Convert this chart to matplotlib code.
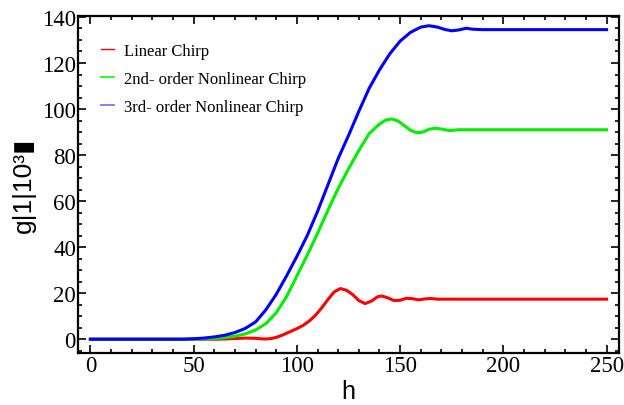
import matplotlib.pyplot as plt
from matplotlib.lines import Line2D
from matplotlib.ticker import MultipleLocator

# valores (h, g en unidades de 10^3)
h_linear = [0, 60, 65, 70, 75, 80, 84, 87, 90, 93, 97, 100, 103, 106, 109, 112, 115, 118,
            121, 124, 127, 130, 133, 136, 139, 141, 144, 147, 150, 153, 156, 159, 162,
            165, 168, 250]
g_linear = [0, 0, 0.1, 0.3, 0.5, 0.4, 0.1, 0.2, 0.8, 1.8, 3.4, 4.6, 6.0, 7.9, 10.4, 13.6,
            17.2, 20.5, 22.0, 21.3, 19.4, 16.8, 15.5, 16.5, 18.4, 18.8, 18.0, 16.8, 16.9,
            17.8, 17.6, 17.1, 17.5, 17.7, 17.4, 17.4]

h_second = [0, 50, 55, 60, 65, 70, 75, 80, 85, 90, 95, 100, 105, 110, 115, 120, 125, 130,
            135, 140, 143, 146, 149, 152, 155, 158, 161, 164, 167, 170, 174, 178, 250]
g_second = [0, 0, 0.1, 0.3, 0.7, 1.3, 2.3, 4.0, 6.8, 11.5, 18.5, 27.5, 36.5, 46, 56, 65.5,
            74, 82, 89.3, 93.5, 95.2, 95.7, 94.8, 92.8, 90.8, 89.7, 90, 91.2, 91.7, 91.3,
            90.6, 91, 91]

h_third = [0, 45, 50, 55, 60, 65, 70, 75, 80, 85, 90, 95, 100, 105, 110, 115, 120, 125,
           130, 135, 140, 145, 150, 155, 160, 164, 168, 172, 175, 178, 182, 185, 190, 250]
g_third = [0, 0, 0.2, 0.5, 1.0, 1.7, 2.9, 4.7, 7.5, 12.8, 19.5, 27.5, 36, 45, 55.5, 67, 78.5,
           88.5, 99, 109, 117, 124, 129.5, 133.3, 135.6, 136.2, 135.6, 134.5, 134, 134.3,
           135.1, 134.7, 134.5, 134.5]

labels = ["Linear Chirp", "2nd- order Nonlinear Chirp", "3rd- order Nonlinear Chirp"]


def main():
    fig = plt.figure(figsize=(6.24, 4.06), dpi=100)
    ax = fig.add_axes([0.125, 0.128, 0.867, 0.830])

    ax.plot(h_linear, g_linear, color="#ff0000", lw=2.2)
    ax.plot(h_second, g_second, color="#00ee00", lw=2.2)
    ax.plot(h_third, g_third, color="#0000ff", lw=2.2)

    ax.set_xlim(-6, 256)
    ax.set_ylim(-6, 140.4)
    ax.xaxis.set_major_locator(MultipleLocator(50))
    ax.xaxis.set_minor_locator(MultipleLocator(10))
    ax.yaxis.set_major_locator(MultipleLocator(20))
    ax.yaxis.set_minor_locator(MultipleLocator(5))
    ax.tick_params(which="both", direction="in", top=True, right=True, width=1.2)
    ax.tick_params(which="major", length=6, labelsize=16.5, pad=1.5)
    ax.tick_params(which="minor", length=3)
    for lab in ax.get_xticklabels() + ax.get_yticklabels():
        lab.set_fontfamily("Liberation Serif")
    for s in ax.spines.values():
        s.set_linewidth(1.6)

    ax.set_xlabel("h", fontsize=18, family="Liberation Sans", labelpad=2)
    ax.set_ylabel("g|1|10³▮", fontsize=19, family=["Liberation Sans", "DejaVu Sans"],
                  labelpad=4)

    handles = [Line2D([], [], color="#ff0000", lw=1.0),
               Line2D([], [], color="#00ff00", lw=1.2),
               Line2D([], [], color="#8080ff", lw=1.4)]
    ax.legend(handles, labels, loc="upper left", frameon=False,
              prop={"family": "Liberation Serif", "size": 12},
              handlelength=0.8, handletextpad=0.6, labelspacing=0.72,
              bbox_to_anchor=(0.015, 0.965))

    plt.savefig("out.png")
    plt.close()


if __name__ == '__main__':
    main()
